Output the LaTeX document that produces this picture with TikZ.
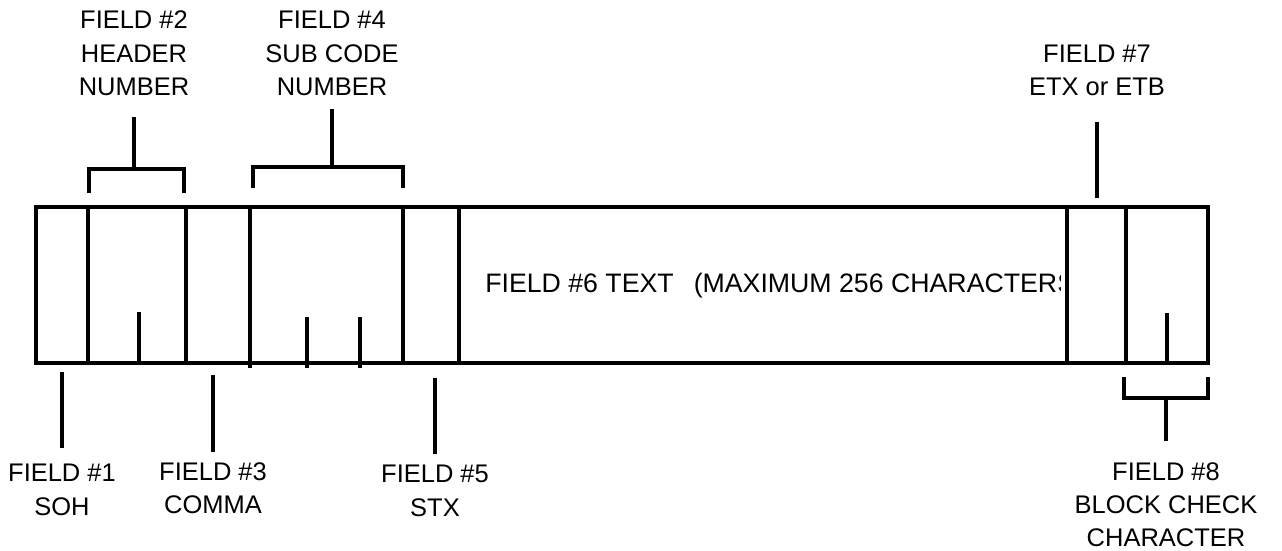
\documentclass[tikz,border=0pt]{standalone}
\usepackage{fontspec}
\setmainfont{Liberation Sans}
\usetikzlibrary{positioning}

\begin{document}
\begin{tikzpicture}[x=0.02cm,y=-0.02cm,line width=2.6pt,
  font=\fontsize{14.5}{19}\selectfont,
  lbl/.style={align=center,inner sep=0pt}]
\useasboundingbox (0,0) rectangle (1282,551);
\def\ytop{207}
\def\ybot{363}
% frame and cell borders
\draw (36,\ytop) rectangle (1208,\ybot);
\foreach \x in {88,186,403,459,1067,1126}{
  \draw (\x,\ytop) -- (\x,\ybot);
}
\draw (250,\ytop) -- (250,368);
% short ticks inside the cells
\foreach \x/\ya/\yb in {139/312/363,307/317/368,360/317/368,1167/313/363}{
  \draw (\x,\ya) -- (\x,\yb);
}
% field 6 text, cut off on the right
\begin{scope}
  \clip (462,\ytop) rectangle (1060,\ybot);
  \node[anchor=base west,inner sep=0pt,font=\fontsize{15.2}{19}\selectfont] (f6) at (483,292)
    {FIELD \#6 TEXT\hspace{0.4cm}(MAXIMUM 256 CHARACTERS};
\end{scope}
% brackets
\draw (89,193) |- (184,169) -- (184,193);
\draw (253,188) |- (403,167) -- (403,188);
\draw (1124,377) |- (1208,398) -- (1208,377);
% stem ends
\coordinate (b2) at (134,169);  \coordinate (t2) at (134,117);
\coordinate (b4) at (332,167);  \coordinate (t4) at (332,109);
\coordinate (b7) at (1097,198); \coordinate (t7) at (1097,122);
\coordinate (b1) at (62,372);   \coordinate (t1) at (62,448);
\coordinate (b3) at (213,375);  \coordinate (t3) at (213,452);
\coordinate (b5) at (435,378);  \coordinate (t5) at (435,454);
\coordinate (b8) at (1166,398); \coordinate (t8) at (1166,441);
% labels
\node[lbl,above=0.38cm of t2] (f2) {FIELD \#2\\HEADER\\NUMBER};
\node[lbl,above=0.22cm of t4] (f4) {FIELD \#4\\SUB CODE\\NUMBER};
\node[lbl,above=0.48cm of t7] (f7) {FIELD \#7\\ETX or ETB};
\node[lbl,below=0.28cm of t1] (f1) {FIELD \#1\\SOH};
\node[lbl,below=0.16cm of t3] (f3) {FIELD \#3\\COMMA};
\node[lbl,below=0.18cm of t5] (f5) {FIELD \#5\\STX};
\node[lbl,below=0.38cm of t8] (f8) {FIELD \#8\\BLOCK CHECK\\CHARACTER};
% stems
\foreach \k in {2,4,7,1,3,5,8}{
  \draw (b\k) -- (t\k);
}
\end{tikzpicture}
\end{document}
